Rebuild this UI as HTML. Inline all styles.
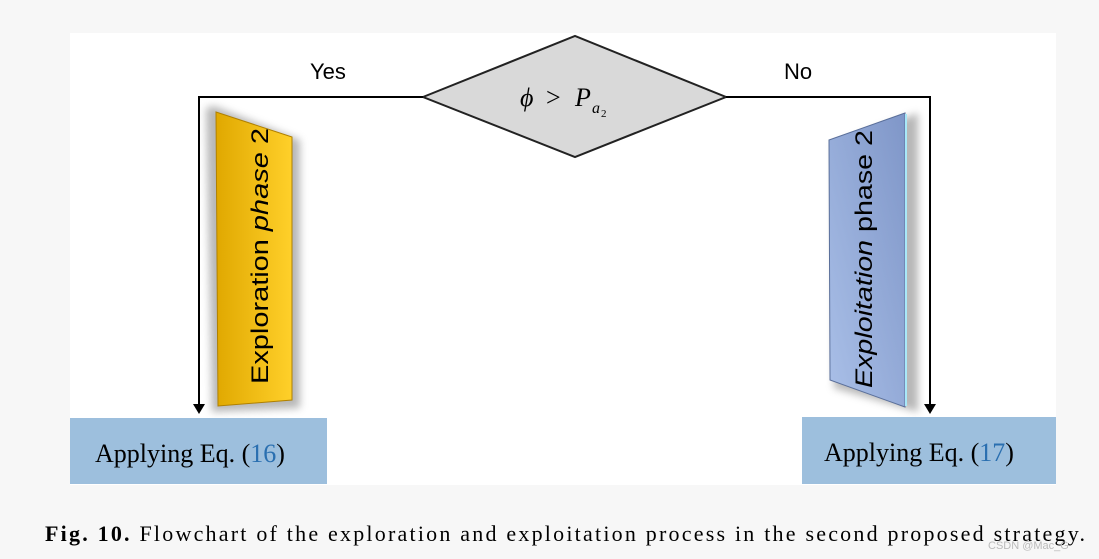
<!DOCTYPE html>
<html><head><style>
body{margin:0;width:1099px;height:559px;background:#f7f7f7;overflow:hidden;font-family:"Liberation Serif",serif;}
</style></head><body>
<svg width="1099" height="559" style="position:absolute;left:0;top:0">
<defs>
<linearGradient id="yg" x1="0" y1="0" x2="1" y2="0"><stop offset="0" stop-color="#e0a800"/><stop offset="1" stop-color="#ffd02a"/></linearGradient>
<linearGradient id="bg" x1="0" y1="1" x2="1" y2="0"><stop offset="0" stop-color="#aac0e8"/><stop offset="1" stop-color="#7f96c8"/></linearGradient>
<filter id="sh"><feGaussianBlur stdDeviation="4"/></filter>
</defs>
<rect x="70" y="33" width="986" height="452" fill="#fff"/>
<polygon points="423,97 575,36 726,97 575,157" fill="#d9d9d9" stroke="#222" stroke-width="2"/>
<text x="520" y="106" font-size="26" font-style="italic">ϕ</text>
<text x="546" y="106" font-size="26">&gt;</text>
<text x="575" y="106" font-size="26" font-style="italic">P</text>
<text x="592" y="113" font-size="16" font-style="italic">a</text>
<text x="601" y="117" font-size="11">2</text>
<polyline points="423,97 199,97 199,408" fill="none" stroke="#000" stroke-width="2"/>
<polygon points="193,404 205,404 199,414" fill="#000"/>
<polyline points="726,97 930,97 930,408" fill="none" stroke="#000" stroke-width="2"/>
<polygon points="924,404 936,404 930,414" fill="#000"/>
<text x="310" y="79" font-family="Liberation Sans" font-size="22">Yes</text>
<text x="784" y="79" font-family="Liberation Sans" font-size="22">No</text>
<polygon points="206,108 214,106 300,140 300,408 212,412" fill="#888" opacity="0.6" filter="url(#sh)"/>
<polygon points="216,112 292,137 292,400 218,406" fill="url(#yg)" stroke="#b08000"/>
<text transform="translate(268,384) rotate(-90)" font-family="Liberation Sans" font-size="24" textLength="256" lengthAdjust="spacingAndGlyphs">Exploration <tspan font-style="italic">phase</tspan> 2</text>
<polygon points="834,145 918,113 918,412 834,388" fill="#888" opacity="0.6" filter="url(#sh)"/>
<polygon points="829,140 905,113 905,407 830,380" fill="url(#bg)" stroke="#5a6f9a"/>
<line x1="906" y1="114" x2="906" y2="406" stroke="#a8e8f8" stroke-width="2"/>
<text transform="translate(872,388) rotate(-90)" font-family="Liberation Sans" font-size="24" textLength="258" lengthAdjust="spacingAndGlyphs"><tspan font-style="italic">Exploitation</tspan> phase 2</text>
<rect x="70" y="418" width="257" height="66" fill="#9dbfdd"/>
<rect x="802" y="417" width="254" height="67" fill="#9dbfdd"/>
<text x="95" y="462" font-size="26">Applying Eq. (<tspan fill="#2a6fb0">16</tspan>)</text>
<text x="824" y="461" font-size="26">Applying Eq. (<tspan fill="#2a6fb0">17</tspan>)</text>
<text x="45" y="541" font-size="22" textLength="1040" lengthAdjust="spacing"><tspan font-weight="bold">Fig. 10.</tspan>  Flowchart of the exploration and exploitation process in the second proposed strategy.</text>
<text x="988" y="549" font-family="Liberation Sans" font-size="11" fill="#bbb">CSDN @Mac_G</text>
</svg>
</body></html>
